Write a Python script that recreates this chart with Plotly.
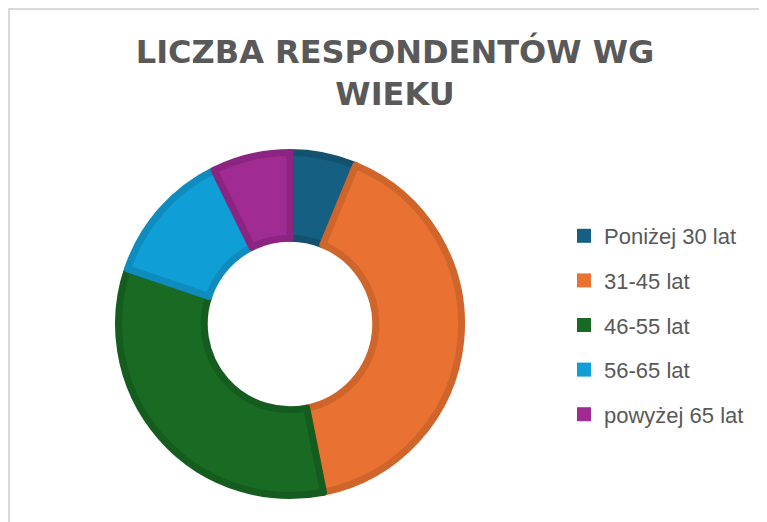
"""
plot.py
------------------------------------
Liczba respondentów wg wieku - donut chart
"""

import plotly.graph_objects as go

# data
age_groups = ["Poniżej 30 lat", "31-45 lat", "46-55 lat", "56-65 lat", "powyżej 65 lat"]
respondents = [6, 39, 32, 12, 7]

fill_colors = ["#156082", "#E97132", "#196B24", "#0F9ED5", "#A02B93"]
edge_colors = ["#12526F", "#D0652C", "#155C1F", "#0D8CBD", "#8C2581"]

# page has an 8px body margin, so the figure is a bit smaller than the window
OFF = 8
W, H = 767 - OFF, 522 - OFF


def px_x(x):
    # screen pixel -> paper fraction
    return (x - OFF) / W


def px_y(y):
    return 1 - (y - OFF) / H


fig = go.Figure()

fig.add_trace(
    go.Pie(
        labels=age_groups,
        values=respondents,
        hole=0.5,
        sort=False,
        direction="clockwise",
        rotation=0,
        textinfo="none",
        hoverinfo="label+value+percent",
        showlegend=False,
        marker=dict(
            colors=fill_colors,
            line=dict(color=edge_colors, width=7)
        ),
        domain=dict(
            x=[px_x(118.5), px_x(461.5)],
            y=[px_y(495.5), px_y(152.5)]
        )
    )
)

# legend entries (one group per category so that the spacing can be set)
for name, color in zip(age_groups, fill_colors):
    fig.add_trace(
        go.Scatter(
            x=[None],
            y=[None],
            mode="markers",
            name=name,
            legendgroup=name,
            marker=dict(symbol="square", size=14, color=color),
            hoverinfo="skip"
        )
    )

fig.update_layout(
    width=W,
    height=H,
    margin=dict(l=0, r=0, t=0, b=0),
    paper_bgcolor="white",
    plot_bgcolor="white",
    xaxis=dict(visible=False),
    yaxis=dict(visible=False),
    title=dict(
        text="LICZBA RESPONDENTÓW WG<br>WIEKU",
        x=px_x(395),
        xanchor="center",
        y=px_y(63),
        yanchor="top",
        font=dict(family="DejaVu Sans", size=32, color="#595959", weight="bold")
    ),
    legend=dict(
        x=px_x(564),
        xanchor="left",
        y=px_y(215),
        yanchor="top",
        tracegroupgap=13,
        font=dict(family="Liberation Sans", size=22, color="#595959"),
        bgcolor="rgba(0,0,0,0)"
    ),
    shapes=[
        dict(
            type="rect", xref="paper", yref="paper",
            x0=px_x(9), x1=px_x(780),
            y0=px_y(540), y1=px_y(9),
            line=dict(color="#D9D9D9", width=2),
            fillcolor="rgba(0,0,0,0)"
        )
    ]
)

fig.write_html("out.html")
